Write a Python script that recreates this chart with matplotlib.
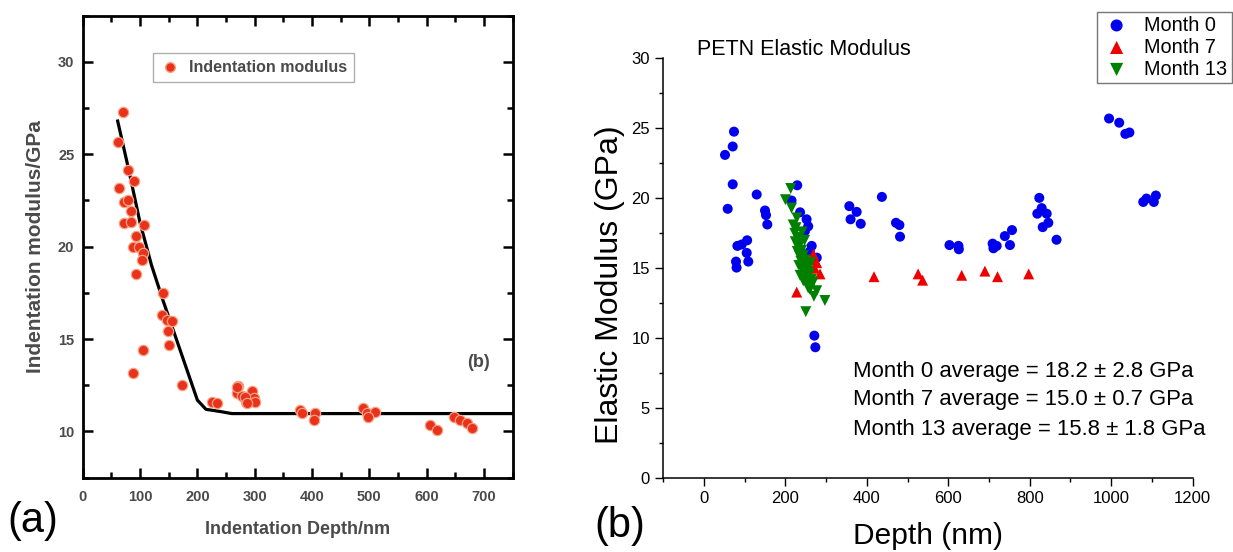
import matplotlib
matplotlib.use("Agg")
import matplotlib.pyplot as plt
from matplotlib.ticker import MultipleLocator
from matplotlib.lines import Line2D

plt.rcParams['font.family'] = ['Liberation Sans', 'DejaVu Sans']

# ---- panel (a): indentation modulus vs depth ----
ind_depth = [70.9, 62, 79.6, 89.5, 63.7, 72, 79.6, 83.7, 72, 83.7, 107, 93, 87, 99, 104.7,
             103, 93, 140.7, 138, 146.6, 155, 149.4, 151, 104.7, 88.3, 172.8, 225, 234,
             271.6, 269.6, 278, 284, 295, 298, 268.7, 283, 300.7, 286,
             379, 382, 405, 403.6, 489.7, 495.6, 510, 498.4,
             606, 617.8, 646.8, 658.5, 670, 678.9]
ind_modulus = [27.28, 25.67, 24.14, 23.56, 23.2, 22.43, 22.5, 21.94, 21.3, 21.35, 21.17, 20.58, 20.0, 20.0, 19.64,
               19.3, 18.54, 17.49, 16.32, 16.05, 15.96, 15.42, 14.69, 14.42, 13.16, 12.53, 11.62, 11.53,
               12.44, 12.08, 11.9, 11.62, 12.17, 11.8, 12.41, 11.88, 11.6, 11.52,
               11.16, 10.98, 10.98, 10.63, 11.25, 10.98, 11.07, 10.8,
               10.36, 10.09, 10.8, 10.63, 10.45, 10.18]
fit_depth = [61, 80, 100, 120, 140, 160, 180, 200, 215, 240, 260, 750]
fit_modulus = [26.8, 24.2, 21.3, 19.0, 17.1, 15.3, 13.5, 11.7, 11.2, 11.08, 10.97, 10.97]

# ---- panel (b): PETN elastic modulus vs depth ----
m0_depth = [51.6, 70.5, 73.7, 70.5, 58.2, 82, 92.6, 106, 104.9, 78.6, 80, 108.8, 129.4, 149.8,
            152.3, 155.5, 229, 215, 236, 252, 256, 248, 264.6, 277, 260, 271, 273.5, 357, 375,
            360, 385, 437, 471.6, 480, 481.5, 603, 625, 626, 709, 719, 711, 739, 756.6, 751.6,
            823.6, 829.5, 818.8, 841.8, 845.8, 832, 866, 995, 1020, 1035, 1045, 1079, 1087,
            1105, 1110]
m0_modulus = [23.1, 23.7, 24.76, 21.0, 19.25, 16.6, 16.7, 17.0, 16.1, 15.48, 15.05, 15.48, 20.27,
              19.13, 18.8, 18.13, 20.93, 19.84, 19.0, 18.5, 18.0, 17.66, 16.6, 15.76, 16.2, 10.19,
              9.36, 19.44, 19.03, 18.5, 18.18, 20.1, 18.25, 18.09, 17.26, 16.66, 16.6, 16.36,
              16.76, 16.6, 16.43, 17.3, 17.73, 16.66, 20.03, 19.3, 18.9, 18.9, 18.25, 17.94,
              17.04, 25.7, 25.4, 24.6, 24.7, 19.74, 19.98, 19.74, 20.2]
m7_depth = [227.7, 268.6, 277, 285, 272, 265, 417.6, 526, 537, 633, 690, 721, 797.6]
m7_modulus = [13.3, 16.0, 15.4, 14.6, 15.0, 15.6, 14.4, 14.6, 14.15, 14.5, 14.8, 14.4, 14.6]
m13_depth = [213, 200, 215, 219, 223, 226, 230, 224, 232, 236, 229, 240, 234, 244, 238, 248,
             233, 242, 252, 246, 256, 236, 250, 259, 244, 264, 253, 268, 256, 260, 277, 270,
             297, 250, 241, 247, 262, 228, 237]
m13_modulus = [20.7, 19.9, 19.3, 18.1, 17.5, 17.9, 17.2, 16.9, 16.5, 16.8, 16.2, 16.3, 15.9,
               15.9, 15.5, 15.6, 15.2, 15.0, 15.2, 14.7, 14.8, 14.5, 14.4, 14.6, 14.1, 14.2,
               13.9, 14.0, 13.6, 13.5, 13.4, 13.0, 12.7, 11.9, 17.6, 17.0, 15.4, 18.6, 16.0]
averages = ["Month 0 average = 18.2 \u00b1 2.8 GPa",
            "Month 7 average = 15.0 \u00b1 0.7 GPa",
            "Month 13 average = 15.8 \u00b1 1.8 GPa"]

W, H = 1233, 552
fig = plt.figure(figsize=(W / 100, H / 100), dpi=100)

# ---------- panel (a) ----------
axa = fig.add_axes([82.7 / W, 1 - 477.7 / H, 430 / W, 462 / H])
grey = '#4a4a4a'
axa.plot(fit_depth, fit_modulus, color='black', lw=2.3, zorder=2)
axa.scatter(ind_depth, ind_modulus, s=55, color='#e8321c', edgecolors='#f7a283',
            linewidths=0.9, zorder=3)
axa.set_xlim(0, 750)
axa.set_ylim(7.5, 32.5)
axa.xaxis.set_major_locator(MultipleLocator(100))
axa.xaxis.set_minor_locator(MultipleLocator(50))
axa.yaxis.set_major_locator(MultipleLocator(5))
axa.yaxis.set_minor_locator(MultipleLocator(2.5))
axa.tick_params(which='both', direction='in', top=True, right=True, width=1.8,
                colors='black', labelcolor=grey, labelsize=10.5)
axa.tick_params(axis='x', which='both', pad=9)
axa.tick_params(axis='y', which='both', pad=6)
axa.tick_params(which='major', length=7)
axa.tick_params(which='minor', length=4)
for lbl in axa.get_xticklabels() + axa.get_yticklabels():
    lbl.set_fontweight('bold')
for sp in axa.spines.values():
    sp.set_linewidth(2.0)
axa.set_xlabel('Indentation Depth/nm', fontsize=13, color=grey, labelpad=12,
               fontweight='bold')
axa.set_ylabel('Indentation modulus/GPa', fontsize=15, color=grey, labelpad=9,
               fontweight='bold')
axa.text(690, 13.74, '(b)', fontsize=13, color=grey, ha='center', va='center',
         fontweight='bold')
handle_a = Line2D([], [], ls='none', marker='o', markersize=7, color='#e8321c',
                  markeredgecolor='#f7a283')
leg_a = axa.legend([handle_a], ['Indentation modulus'], loc='upper left',
                   bbox_to_anchor=(0.164, 0.919), borderaxespad=0,
                   prop={'size': 11.5, 'weight': 'bold'},
                   frameon=True, fancybox=False, handletextpad=0.6, borderpad=0.45,
                   handlelength=1.2)
leg_a.get_frame().set_edgecolor('#9a9a9a')
leg_a.get_frame().set_linewidth(1.0)
for t in leg_a.get_texts():
    t.set_color(grey)

# ---------- panel (b) ----------
axb = fig.add_axes([663.3 / W, 1 - 478.3 / H, 529.2 / W, 420 / H])
axb.scatter(m0_depth, m0_modulus, s=52, marker='o', color='#0000ee', edgecolors='none',
            zorder=3, label='Month 0')
axb.scatter(m7_depth, m7_modulus, s=62, marker='^', color='#ee0000', edgecolors='none',
            zorder=4, label='Month 7')
axb.scatter(m13_depth, m13_modulus, s=62, marker='v', color='#008000', edgecolors='none',
            zorder=5, label='Month 13')
axb.set_xlim(-100, 1200)
axb.set_ylim(0, 30)
axb.xaxis.set_major_locator(MultipleLocator(200))
axb.xaxis.set_minor_locator(MultipleLocator(100))
axb.yaxis.set_major_locator(MultipleLocator(5))
axb.yaxis.set_minor_locator(MultipleLocator(2.5))
axb.spines['top'].set_visible(False)
axb.spines['right'].set_visible(False)
for sp in ('left', 'bottom'):
    axb.spines[sp].set_linewidth(1.1)
axb.tick_params(which='both', direction='out', width=1.0, labelsize=12, colors='black')
axb.tick_params(which='major', length=6)
axb.tick_params(which='minor', length=3)
axb.set_xlabel('Depth (nm)', fontsize=21.5, labelpad=11)
axb.set_ylabel('Elastic Modulus (GPa)', fontsize=23)
axb.yaxis.set_label_coords(-0.072, 0.46)
fig.text(697 / W, 1 - 49 / H, 'PETN Elastic Modulus', fontsize=15.5, ha='left', va='center')
for i, s in enumerate(averages):
    fig.text(853 / W, 1 - (371 + 29 * i) / H, s, fontsize=15.9, ha='left', va='center')
leg_b = fig.legend(loc='upper right', bbox_to_anchor=(1231.5 / W, 1 - 11.7 / H),
                   borderaxespad=0, fontsize=14.3, frameon=True, fancybox=False,
                   labelspacing=0.15, handletextpad=0.6, borderpad=0.2,
                   handlelength=1.6, markerscale=1.2)
leg_b.get_frame().set_edgecolor('#555555')
leg_b.get_frame().set_linewidth(1.0)

# panel letters
fig.text(33 / W, 1 - 521 / H, '(a)', fontsize=30, ha='center', va='center')
fig.text(620 / W, 1 - 526 / H, '(b)', fontsize=30, ha='center', va='center')

fig.savefig('out.png', dpi=100)
